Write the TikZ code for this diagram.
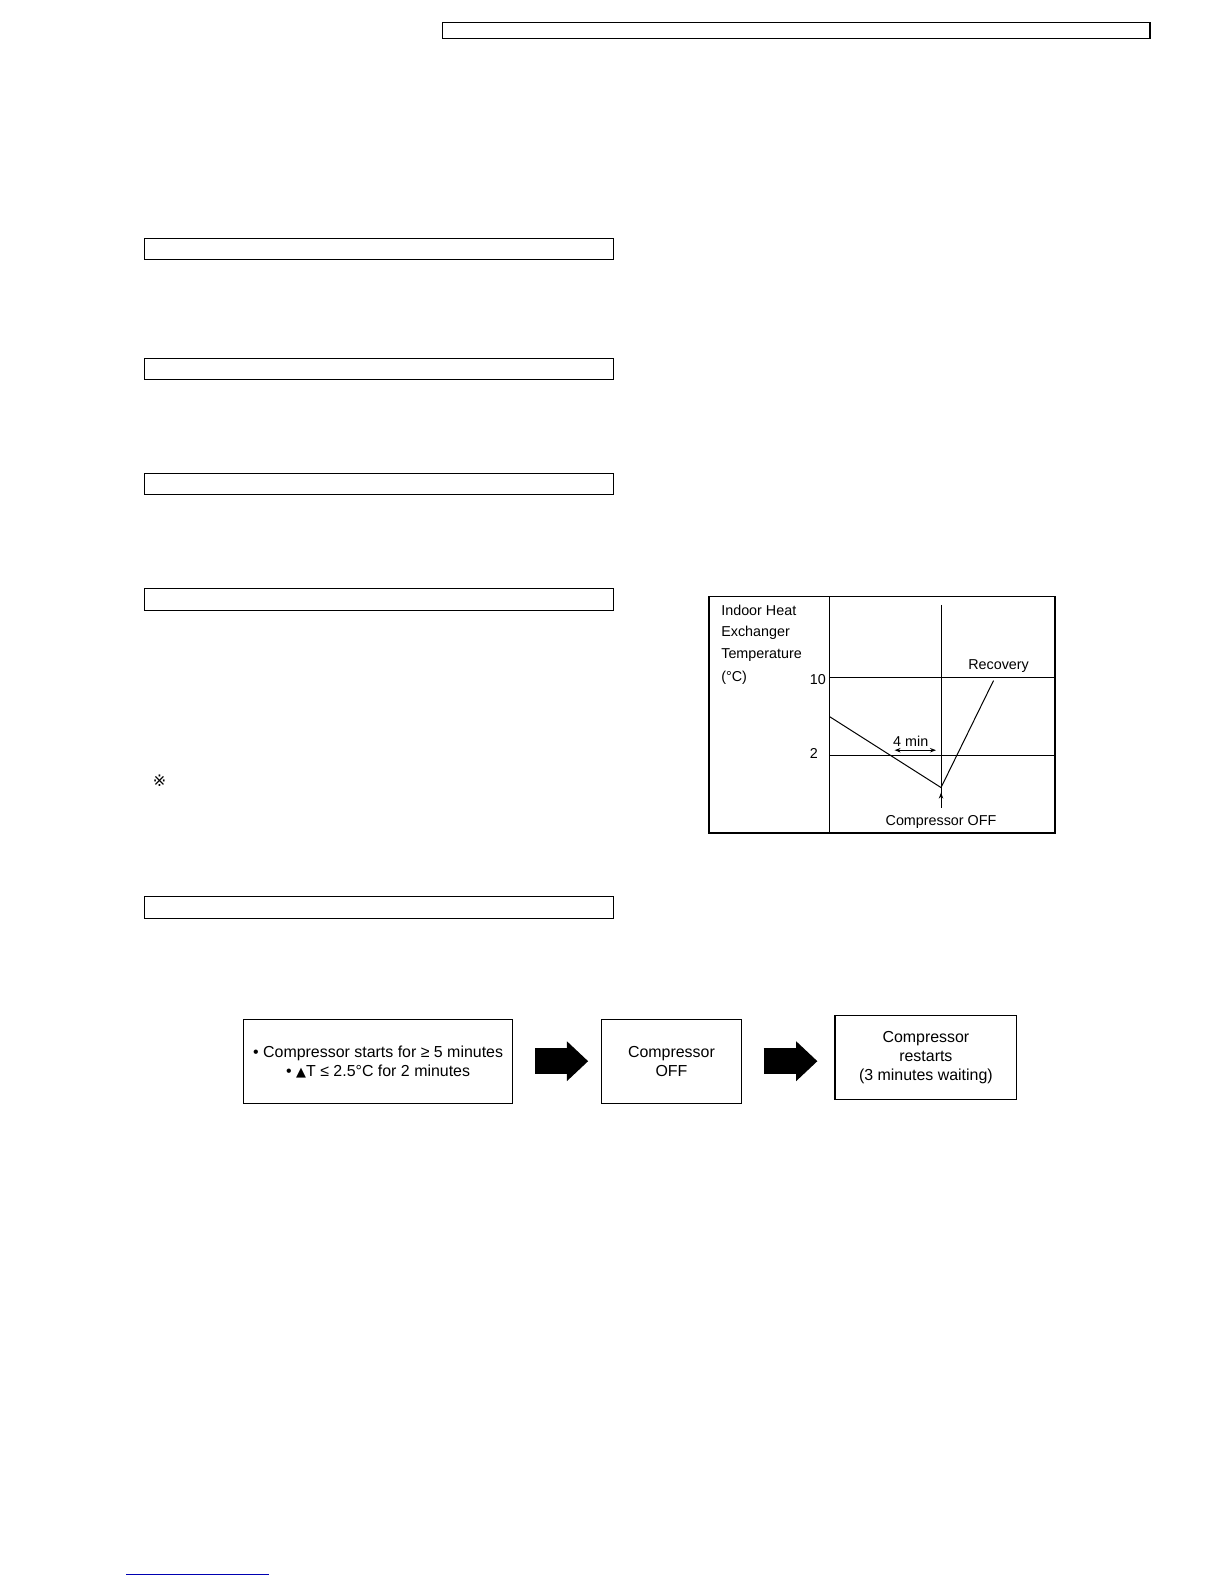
\documentclass[tikz,border=0pt]{standalone}
\usepackage{fontspec}
\setmainfont{Liberation Sans}
\newfontfamily\symfont{DejaVu Sans}
\usetikzlibrary{arrows.meta,positioning}
\tikzset{
  bar/.style={draw, line width=0.6pt},
  flowbox/.style={draw, line width=0.6pt, align=center, inner sep=0pt, font=\fontsize{8}{9.7}\selectfont},
  chartline/.style={line width=0.5pt},
  lbl/.style={inner sep=0pt, font=\fontsize{7.2}{8}\selectfont},
  bigarrow/.style={line width=13.2bp, -{Triangle[length=10.6bp, width=19.2bp]}}
}
\begin{document}
\begin{tikzpicture}[x=0.505bp, y=-0.505bp]
    \useasboundingbox (0,0) rectangle (1212.2,1568.8);

% header and section bars
    \draw[bar] (438,22) rectangle (1139,38);
    \foreach \yt/\yb in {236/257, 355/376, 469/490, 583/605, 888/910}
        \draw[bar] (143,\yt) rectangle (608,\yb);

    \node[lbl, font=\symfont\fontsize{8}{9}\selectfont] (note) at (158,773) {※};

% chart
    \draw[chartline, line width=0.7pt] (702,591) rectangle (1045,825);
    \draw[chartline] (822,591) -- (822,825);
    \draw[chartline] (822,671) -- (1045,671);
    \draw[chartline] (822,748) -- (1045,748);
    \draw[chartline] (932,599) -- (932,800);
    \coordinate (start) at (822,710);
    \coordinate (low) at (932,780);
    \coordinate (rec) at (984,674);
    \draw[chartline] (start) -- (low) -- (rec);
    \draw[chartline, {Stealth[length=3pt]}-{Stealth[length=3pt]}] (886,743) -- (927,743);
    \draw[chartline, -{Stealth[length=3pt]}] (932,795) -- (932,785);

    \node[lbl, anchor=west] (ylab1) at (714,605) {Indoor Heat};
    \node[lbl, anchor=west] (ylab2) at (714,627) {Exchanger};
    \node[lbl, anchor=west] (ylab3) at (714,649) {Temperature};
    \node[lbl, anchor=west] (ylab4) at (714,671) {(°C)};
    \node[lbl] (ten) at (810,673) {10};
    \node[lbl] (two) at (806,746) {2};
    \node[lbl] (min) at (902,734) {4 min};
    \node[lbl] (recovery) at (989,660) {Recovery};
    \node[lbl] (off) at (932,814) {Compressor OFF};

% flow
    \node[flowbox, minimum width=134.8bp, minimum height=41.9bp] (cond) at (374.5,1051.5)
        {• Compressor starts for ≥ 5 minutes\\ • {\symfont\fontsize{6.5}{8}\selectfont▲}T ≤ 2.5°C for 2 minutes};
    \node[flowbox, minimum width=69.7bp, minimum height=41.9bp] (stop) at (665,1051.5) {Compressor\\OFF};
    \node[flowbox, minimum width=90.9bp, minimum height=41.9bp] (restart) at (917,1047.5) {Compressor\\restarts\\(3 minutes waiting)};
    \draw[bigarrow] ([xshift=11bp]cond.east |- 0,1051) -- ([xshift=-6.5bp]stop.west |- 0,1051);
    \draw[bigarrow] ([xshift=11bp]stop.east |- 0,1051) -- ([xshift=-8.5bp]restart.west |- 0,1051);

% footer line
    \draw[blue!70!black, line width=0.5pt] (125,1559) -- (266,1559);
\end{tikzpicture}
\end{document}
